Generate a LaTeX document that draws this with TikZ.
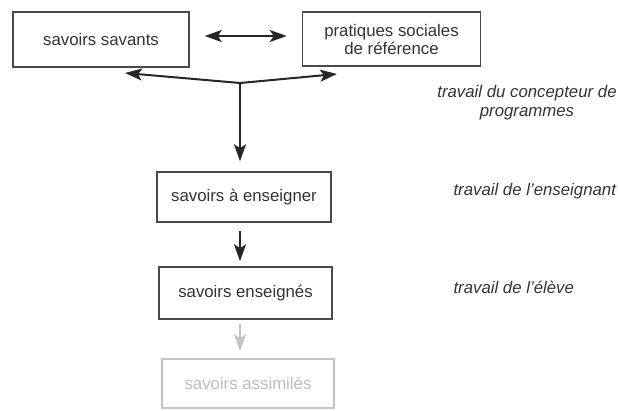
\documentclass[tikz,border=0pt]{standalone}
\usepackage{fontspec}
\setmainfont{Liberation Sans}
\usetikzlibrary{arrows.meta}
\definecolor{ink}{HTML}{333333}
\definecolor{boxline}{HTML}{4A4A4A}
\definecolor{faded}{HTML}{C4C4C4}
\definecolor{fadedtext}{HTML}{BDBDBD}
\begin{document}
\begin{tikzpicture}[x=1pt,y=-1pt,
  every node/.style={font=\fontsize{16.8}{18}\selectfont, text=ink},
  knowbox/.style={draw=boxline, line width=1.5pt, align=center, inner sep=0pt},
  fadedbox/.style={knowbox, draw=faded, text=fadedtext},
  link/.style={draw=black!85, line width=2pt, -{Stealth[length=17pt,width=12pt,inset=4pt]}},
  twoway/.style={link, {Stealth[length=17pt,width=12pt,inset=4pt]}-{Stealth[length=17pt,width=12pt,inset=4pt]}},
  fadedlink/.style={link, draw=faded, line width=1.6pt},
  role/.style={font=\fontsize{16.8}{19}\selectfont\itshape, text=ink, align=center}]
\useasboundingbox (0,0) rectangle (618,410);

% knowledge stages
\node[knowbox, minimum width=176pt, minimum height=55pt] (savants) at (101,39.5) {savoirs savants};
\node[knowbox, minimum width=178pt, minimum height=54pt] (pratiques) at (391.5,39) {pratiques sociales\\de référence};
\node[knowbox, minimum width=174pt, minimum height=50pt] (enseigner) at (244,197) {savoirs à enseigner};
\node[knowbox, minimum width=173pt, minimum height=52pt] (enseignes) at (245.5,293) {savoirs enseignés};
\node[fadedbox, minimum width=172pt, minimum height=49pt] (assimiles) at (248,383.5) {savoirs assimilés};

% who does the work at each step
\node[role] (concepteur) at (527,103) {travail du concepteur de\\programmes};
\node[role, anchor=west] (enseignant) at (450,191) {travail de l'enseignant};
\node[role, anchor=west] (eleve) at (450,287) {travail de l'élève};

% connectors
\draw[twoway] ([xshift=15pt,yshift=3.5pt]savants.east) -- ([xshift=-15pt,yshift=3pt]pratiques.west);

\coordinate (fork) at (240,83);
\coordinate (tipL) at (125,73);
\coordinate (tipR) at (337,74);
\draw[link] (fork) -- (tipL);
\draw[link] (fork) -- (tipR);
\draw[link, shorten >=10pt] (fork) -- (fork |- enseigner.north);

\draw[link, shorten <=8pt, shorten >=5pt] (enseigner.south -| fork) -- (enseignes.north -| fork);
\draw[fadedlink, shorten <=4pt, shorten >=7pt] (enseignes.south -| fork) -- (assimiles.north -| fork);
\end{tikzpicture}
\end{document}
